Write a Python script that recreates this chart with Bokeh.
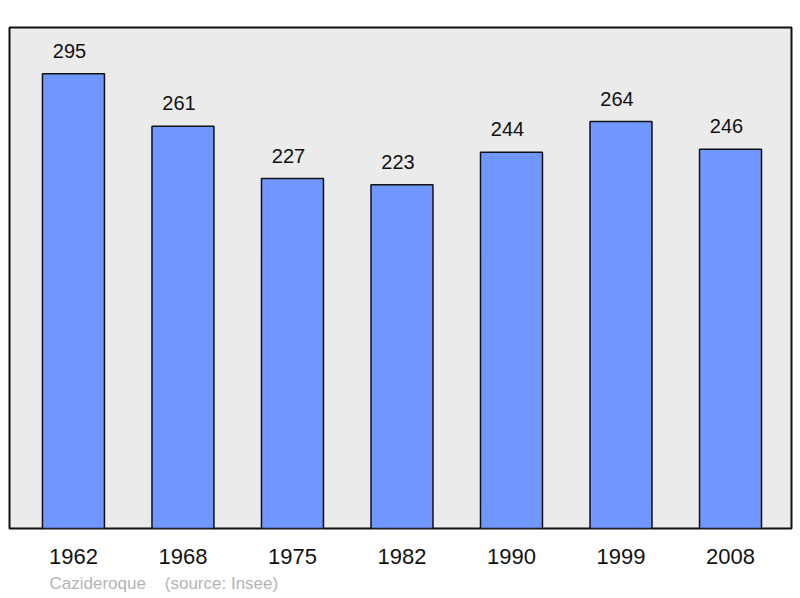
from bokeh.plotting import figure
from bokeh.models import ColumnDataSource, FixedTicker, Title, Range1d
from bokeh.core.properties import value
from bokeh.embed import file_html
from bokeh.resources import INLINE

years = ["1962", "1968", "1975", "1982", "1990", "1999", "2008"]
population = [295, 261, 227, 223, 244, 264, 246]

xs = list(range(len(years)))
src = ColumnDataSource(dict(x=xs, top=population, label=[str(v) for v in population]))

p = figure(width=800, height=597, output_backend="svg", toolbar_location=None,
           x_range=Range1d(-0.584, 6.557), y_range=Range1d(0, 325),
           min_border_left=9, min_border_right=9, min_border_top=27, min_border_bottom=69)
p.background_fill_color = "#ebebeb"
p.border_fill_color = "white"
p.outline_line_color = "#111111"
p.outline_line_width = 2
p.grid.visible = False
p.yaxis.visible = False

p.vbar(x="x", top="top", width=0.566, bottom=0, source=src,
       fill_color="#7096ff", line_color="#111111", line_width=1.5)
p.text(x="x", y="top", text="label", source=src, text_align="center",
       text_baseline="alphabetic", x_offset=-4, y_offset=-23,
       text_font=value("Liberation Sans"),
       text_font_size="20px", text_color="#111111")

xa = p.xaxis[0]
xa.ticker = FixedTicker(ticks=xs)
xa.major_label_overrides = {i: y for i, y in enumerate(years)}
xa.axis_line_color = None
xa.major_tick_line_color = None
xa.minor_tick_line_color = None
xa.major_label_text_font = "Liberation Sans"
xa.major_label_text_font_size = "22px"
xa.major_label_text_color = "#111111"
xa.major_label_standoff = 14

t = Title(text="Cazideroque\u00a0\u00a0\u00a0\u00a0(source: Insee)", align="left", offset=40,
          text_font="Liberation Sans", text_font_size="17px", text_color="#b4b4b4",
          text_font_style="normal", standoff=10)
p.add_layout(t, "below")

open("out.html", "w").write(file_html(p, INLINE))
